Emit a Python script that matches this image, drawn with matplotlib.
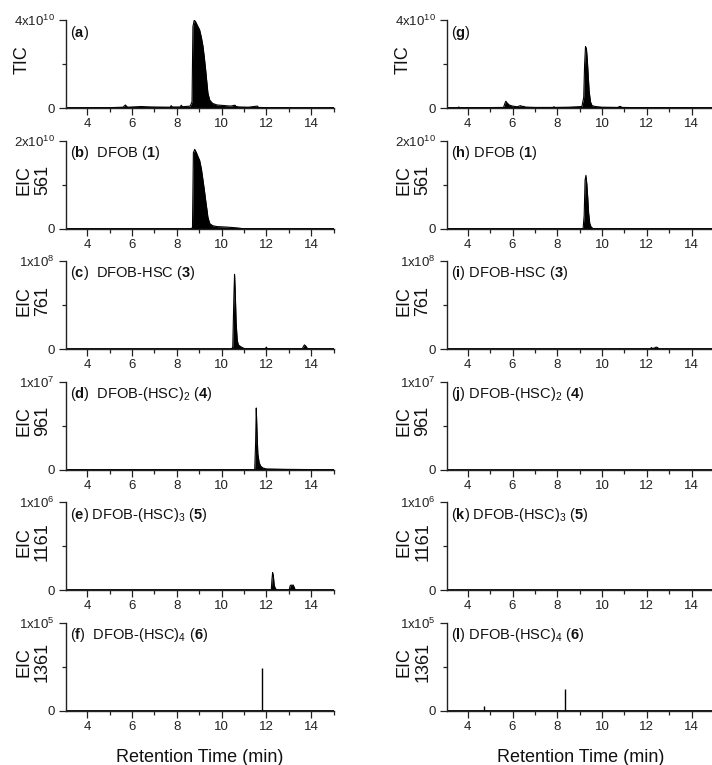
import numpy as np
import matplotlib.pyplot as plt
from matplotlib.ticker import FixedLocator, MultipleLocator

plt.rcParams['font.family'] = ['Liberation Sans', 'DejaVu Sans']
plt.rcParams['mathtext.fontset'] = 'custom'
plt.rcParams['mathtext.rm'] = 'Liberation Sans'
plt.rcParams['mathtext.bf'] = 'Liberation Sans:bold'
plt.rcParams['mathtext.it'] = 'Liberation Sans:italic'

# ---- data (time in min, intensity in units of panel scale) ----
# (a) TIC, x1e10
a_t = [3.0, 4.0, 5.0, 5.6, 5.7, 5.8, 6.4, 6.9, 7.7, 7.75, 7.8, 8.15, 8.2, 8.25, 8.6, 8.68,
       8.72, 8.78, 8.85, 8.92, 9.02, 9.1, 9.17, 9.23, 9.29, 9.34, 9.39, 9.47, 9.6, 9.8, 10.05,
       10.4, 10.6, 10.65, 10.8, 11.2, 11.6, 11.65, 12.0, 13.0, 14.0, 15.0]
a_y = [0.02, 0.02, 0.03, 0.05, 0.15, 0.05, 0.08, 0.06, 0.05, 0.12, 0.06, 0.06, 0.14, 0.07, 0.1, 0.3,
       3.7, 4.0, 3.9, 3.75, 3.55, 3.2, 2.8, 2.3, 1.73, 1.2, 0.69, 0.37, 0.22, 0.15, 0.13,
       0.1, 0.14, 0.08, 0.06, 0.05, 0.1, 0.04, 0.03, 0.02, 0.02, 0.02]
# (b) EIC 561, x1e10
b_t = [3.0, 8.6, 8.7, 8.74, 8.8, 8.88, 8.95, 9.02, 9.1, 9.17, 9.23, 9.29, 9.35, 9.39, 9.47,
       9.6, 9.8, 10.2, 10.7, 11.0, 15.0]
b_y = [0, 0, 0.02, 1.72, 1.8, 1.72, 1.63, 1.55, 1.35, 1.1, 0.88, 0.64, 0.42, 0.26, 0.12,
       0.07, 0.05, 0.04, 0.02, 0.0, 0]
# (c) EIC 761, x1e8
c_t = [3.0, 10.45, 10.5, 10.55, 10.58, 10.61, 10.65, 10.7, 10.75, 10.85, 11.0, 11.2, 11.95,
       12.0, 12.05, 13.6, 13.7, 13.75, 13.85, 15.0]
c_y = [0, 0, 0.03, 0.6, 0.85, 0.65, 0.3, 0.1, 0.05, 0.03, 0.01, 0.005, 0.005,
       0.025, 0.005, 0.005, 0.05, 0.04, 0.005, 0]
# (d) EIC 961, x1e7
d_t = [3.0, 11.48, 11.52, 11.55, 11.58, 11.62, 11.68, 11.75, 11.85, 12.0, 12.9, 15.0]
d_y = [0, 0, 0.3, 0.7, 0.45, 0.18, 0.08, 0.04, 0.02, 0.01, 0.005, 0]
# (e) EIC 1161, x1e6
e_t = [3.0, 12.22, 12.25, 12.28, 12.31, 12.35, 12.4, 12.5, 13.02, 13.06, 13.1, 13.15, 13.2,
       13.25, 13.3, 15.0]
e_y = [0, 0, 0.12, 0.2, 0.17, 0.06, 0.02, 0.0, 0, 0.05, 0.06, 0.055, 0.06, 0.03, 0, 0]
# (f) EIC 1361, x1e5 (single scans)
f_t = [11.81]
f_y = [0.49]

# (g) TIC, x1e10
g_t = [3.0, 3.55, 3.6, 3.65, 5.6, 5.65, 5.7, 5.75, 5.85, 6.0, 6.2, 6.3, 6.35, 6.45, 6.5, 6.55,
       6.7, 7.0, 7.8, 7.85, 7.9, 8.5, 9.1, 9.18, 9.22, 9.26, 9.3, 9.34, 9.38, 9.42, 9.48, 9.55,
       9.7, 10.0, 10.7, 10.8, 10.9, 11.5, 12.5, 15.0]
g_y = [0.02, 0.02, 0.06, 0.02, 0.04, 0.2, 0.32, 0.25, 0.15, 0.1, 0.07, 0.1, 0.12, 0.08, 0.09, 0.06,
       0.05, 0.04, 0.04, 0.07, 0.04, 0.05, 0.08, 0.5, 2.0, 2.8, 2.7, 2.2, 1.5, 0.8, 0.3, 0.12,
       0.08, 0.05, 0.04, 0.09, 0.04, 0.03, 0.03, 0.02]
# (h) EIC 561, x1e10
h_t = [3.0, 9.15, 9.2, 9.24, 9.28, 9.32, 9.36, 9.4, 9.45, 9.5, 9.6, 15.0]
h_y = [0, 0, 0.3, 1.1, 1.21, 1.0, 0.7, 0.35, 0.12, 0.05, 0, 0]
# (i) EIC 761, x1e8
i_t = [3.0, 10.75, 10.8, 10.85, 12.15, 12.2, 12.25, 12.35, 12.42, 12.48, 12.55, 15.0]
i_y = [0, 0, 0.008, 0, 0, 0.02, 0.01, 0.015, 0.025, 0.02, 0, 0]
# (j), (k) nothing detected
j_t = [3.0, 15.0]
j_y = [0, 0]
k_t = [3.0, 15.0]
k_y = [0, 0]
# (l) EIC 1361, x1e5 (single scans)
l_t = [4.72, 8.34]
l_y = [0.06, 0.25]

ylabels = ['TIC', 'EIC\n561', 'EIC\n761', 'EIC\n961', 'EIC\n1161', 'EIC\n1361']
ymax_labels = [r'4x10$^{10}$', r'2x10$^{10}$', r'1x10$^{8}$', r'1x10$^{7}$',
               r'1x10$^{6}$', r'1x10$^{5}$']
ymax = [4, 2, 1, 1, 1, 1]
left_titles = [r'($\mathbf{a}$)', r'($\mathbf{b}$)  DFOB ($\mathbf{1}$)',
               r'($\mathbf{c}$)  DFOB-HSC ($\mathbf{3}$)',
               r'($\mathbf{d}$)  DFOB-(HSC)$_2$ ($\mathbf{4}$)',
               r'($\mathbf{e}$) DFOB-(HSC)$_3$ ($\mathbf{5}$)',
               r'($\mathbf{f}$)  DFOB-(HSC)$_4$ ($\mathbf{6}$)']
right_titles = [r'($\mathbf{g}$)', r'($\mathbf{h}$) DFOB ($\mathbf{1}$)',
                r'($\mathbf{i}$) DFOB-HSC ($\mathbf{3}$)',
                r'($\mathbf{j}$) DFOB-(HSC)$_2$ ($\mathbf{4}$)',
                r'($\mathbf{k}$) DFOB-(HSC)$_3$ ($\mathbf{5}$)',
                r'($\mathbf{l}$) DFOB-(HSC)$_4$ ($\mathbf{6}$)']

left_data = [(a_t, a_y), (b_t, b_y), (c_t, c_y), (d_t, d_y), (e_t, e_y), (f_t, f_y)]
right_data = [(g_t, g_y), (h_t, h_y), (i_t, i_y), (j_t, j_y), (k_t, k_y), (l_t, l_y)]
stick_rows = [5]

# ---- layout (pixels) ----
W, H = 712, 765
fig = plt.figure(figsize=(W / 100, H / 100), dpi=100)
col_x = [66, 446.5]
ax_w = 267.5
ax_h = 88.3
row_top = [20 + 120.5 * r for r in range(6)]
ink = '#111111'

for col, (cx, data, titles) in enumerate(zip(col_x, [left_data, right_data],
                                             [left_titles, right_titles])):
    for r in range(6):
        top = row_top[r]
        ax = fig.add_axes([cx / W, 1 - (top + ax_h) / H, ax_w / W, ax_h / H])
        t, y = data[r]
        if r in stick_rows:
            ax.vlines(t, 0, y, color='black', lw=1.0)
        else:
            ax.fill_between(t, 0, y, color='black', lw=0)
            ax.plot(t, y, color='black', lw=0.8)
        ax.plot([3, 15], [0, 0], color='black', lw=1.3)
        ax.set_xlim(3.05, 15.0)
        ax.set_ylim(0, ymax[r])
        for s in ['top', 'right']:
            ax.spines[s].set_visible(False)
        for s in ['left', 'bottom']:
            ax.spines[s].set_linewidth(1.0)
            ax.spines[s].set_color('#222222')
        ax.xaxis.set_major_locator(FixedLocator([4, 6, 8, 10, 12, 14]))
        ax.xaxis.set_minor_locator(FixedLocator([3, 5, 7, 9, 11, 13, 15]))
        ax.yaxis.set_major_locator(FixedLocator([0, ymax[r]]))
        ax.yaxis.set_minor_locator(FixedLocator([ymax[r] / 2]))
        ax.set_yticklabels(['0', ymax_labels[r]])
        ax.tick_params(which='major', direction='out', length=5, width=0.9,
                       labelsize=9.5, colors='#222222', pad=2)
        ax.tick_params(which='minor', direction='out', length=3, width=0.9,
                       colors='#222222')
        ax.tick_params(axis='y', pad=3)
        ax.annotate(titles[r], xy=(0, 1), xycoords='axes fraction', xytext=(3, -9),
                    textcoords='offset points', ha='left', va='center',
                    fontsize=10.5, color=ink)
        # y label
        yc = 1 - (top + ax_h / 2 - 4.5) / H
        if '\n' in ylabels[r]:
            xc = (cx - 33) / W
        else:
            xc = (cx - 43.5) / W
        fig.text(xc, yc, ylabels[r], rotation=90, ha='center', va='center',
                 multialignment='center', linespacing=1.15, fontsize=13, color=ink)
    fig.text((cx + ax_w / 2) / W, 1 - 757 / H, 'Retention Time (min)',
             ha='center', va='center', fontsize=13, color=ink)

fig.savefig('out.png', dpi=100)
